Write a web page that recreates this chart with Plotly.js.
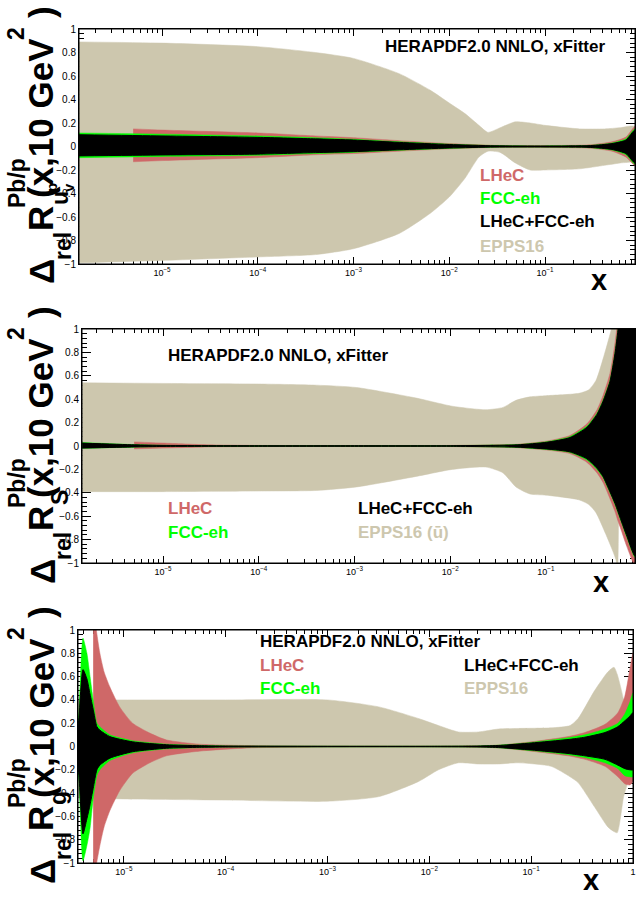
<!DOCTYPE html>
<html>
<head>
<meta charset="utf-8">
<script src="https://cdn.plot.ly/plotly-3.0.1.min.js"></script>
<style>html,body{margin:0;padding:0;background:#fff;}#chart{width:636px;height:899px;}</style>
</head>
<body>
<div id="chart"></div>
<script>
// ---------------- DATA ----------------
// Panel 1: u_v valence
const xU_epps = [1.36e-6, 1e-5, 1e-4, 4e-4, 1e-3, 3e-3, 6.3e-3, 1e-2, 1.46e-2, 2.04e-2, 2.54e-2, 3.4e-2, 4.9e-2, 7e-2, 0.1, 0.23, 0.42, 0.61, 0.87];
const uU_epps = [0.89, 0.88, 0.85, 0.80, 0.75, 0.62, 0.48, 0.37, 0.28, 0.18, 0.12, 0.16, 0.21, 0.20, 0.18, 0.15, 0.15, 0.16, 0.17];
const lU_epps = [-0.99, -0.97, -0.94, -0.92, -0.87, -0.74, -0.57, -0.43, -0.27, -0.09, -0.04, -0.05, -0.14, -0.20, -0.20, -0.19, -0.16, -0.14, -0.12];
const xU_lhec = [5e-6, 1e-5, 1e-4, 4e-4, 1e-3, 3e-3, 1e-2, 3e-2, 0.1, 0.3, 0.5, 0.7, 0.87];
const uU_lhec = [0.15, 0.14, 0.115, 0.09, 0.075, 0.05, 0.025, 0.01, 0.008, 0.015, 0.04, 0.08, 0.17];
const lU_lhec = [-0.13, -0.12, -0.095, -0.07, -0.06, -0.04, -0.02, -0.008, -0.008, -0.015, -0.04, -0.09, -0.16];
const xU_fcc  = [1.36e-6, 1e-5, 1e-4, 4e-4, 1e-3, 3e-3, 1e-2, 3e-2, 0.1, 0.3, 0.5, 0.7, 0.87];
const uU_fcc  = [0.115, 0.105, 0.09, 0.075, 0.062, 0.04, 0.02, 0.008, 0.005, 0.01, 0.03, 0.065, 0.15];
const lU_fcc  = [-0.095, -0.085, -0.075, -0.06, -0.05, -0.032, -0.016, -0.006, -0.005, -0.01, -0.03, -0.07, -0.15];
const uU_comb = [0.10, 0.09, 0.078, 0.065, 0.055, 0.035, 0.017, 0.006, 0.004, 0.008, 0.025, 0.055, 0.14];
const lU_comb = [-0.08, -0.072, -0.065, -0.052, -0.044, -0.028, -0.013, -0.005, -0.004, -0.008, -0.025, -0.06, -0.14];

// Panel 2: strange
const xS_epps = [1.43e-6, 1e-5, 1e-4, 4e-4, 1.05e-3, 4.4e-3, 1.05e-2, 2.36e-2, 3.56e-2, 4.86e-2, 6.8e-2, 0.1, 0.221, 0.28, 0.333, 0.42, 0.5, 0.537, 0.56];
const uS_epps = [0.54, 0.535, 0.53, 0.52, 0.50, 0.41, 0.34, 0.31, 0.33, 0.39, 0.42, 0.43, 0.45, 0.48, 0.56, 0.82, 1.05, 1.2, 1.3];
const lS_epps = [-0.39, -0.39, -0.385, -0.38, -0.35, -0.26, -0.20, -0.18, -0.23, -0.35, -0.41, -0.42, -0.46, -0.50, -0.57, -0.75, -0.90, -0.97, -1.05];
const xS_lhec = [5e-6, 1e-5, 3e-5, 1e-4, 1e-3, 1e-2, 5e-2, 0.102, 0.178, 0.268, 0.341, 0.394, 0.466, 0.526, 0.565, 0.6, 0.7, 0.85];
const uS_lhec = [0.035, 0.025, 0.01, 0.005, 0.004, 0.005, 0.015, 0.042, 0.09, 0.19, 0.31, 0.43, 0.62, 0.88, 1.1, 1.3, 1.6, 2.0];
const lS_lhec = [-0.025, -0.018, -0.008, -0.005, -0.004, -0.005, -0.015, -0.035, -0.065, -0.14, -0.23, -0.31, -0.45, -0.56, -0.64, -0.70, -0.86, -1.02];
const xS_fcc  = [1.43e-6, 5e-6, 1e-5, 1e-4, 1e-3, 1e-2, 5e-2, 0.102, 0.178, 0.268, 0.341, 0.394, 0.466, 0.526, 0.565, 0.6, 0.7, 0.85];
const uS_fcc  = [0.03, 0.012, 0.006, 0.004, 0.003, 0.004, 0.012, 0.037, 0.08, 0.17, 0.28, 0.39, 0.56, 0.8, 1.0, 1.2, 1.5, 2.0];
const lS_fcc  = [-0.02, -0.01, -0.005, -0.004, -0.003, -0.004, -0.012, -0.03, -0.055, -0.12, -0.20, -0.27, -0.40, -0.50, -0.57, -0.63, -0.78, -0.95];
const uS_comb = [0.025, 0.01, 0.005, 0.003, 0.003, 0.003, 0.01, 0.032, 0.072, 0.16, 0.27, 0.38, 0.55, 0.79, 0.99, 1.2, 1.5, 2.0];
const lS_comb = [-0.018, -0.008, -0.004, -0.003, -0.003, -0.003, -0.01, -0.026, -0.05, -0.11, -0.19, -0.26, -0.39, -0.49, -0.56, -0.62, -0.77, -0.94];

// Panel 3: gluon
const xG_epps = [3.55e-6, 1e-5, 1e-4, 1e-3, 3.2e-3, 7.85e-3, 1.23e-2, 1.93e-2, 3.03e-2, 4.76e-2, 7.46e-2, 0.157, 0.241, 0.289, 0.42, 0.566, 0.65, 0.7, 0.81, 0.89, 0.98];
const uG_epps = [0.4, 0.4, 0.4, 0.4, 0.34, 0.24, 0.18, 0.125, 0.125, 0.15, 0.155, 0.16, 0.18, 0.24, 0.48, 0.64, 0.68, 0.62, 0.4, 0.2, 0.1];
const lG_epps = [-0.44, -0.45, -0.46, -0.47, -0.43, -0.30, -0.20, -0.14, -0.15, -0.15, -0.14, -0.17, -0.26, -0.31, -0.52, -0.69, -0.73, -0.74, -0.43, -0.31, -0.2];
const xG_lhec = [5.0e-6, 5.2e-6, 5.82e-6, 6.4e-6, 7.3e-6, 9.1e-6, 1.22e-5, 1.8e-5, 2.63e-5, 5.5e-5, 1.7e-4, 1e-3, 1e-2, 3e-2, 5e-2, 0.1, 0.23, 0.337, 0.53, 0.71, 0.83, 0.93, 1.0];
const uG_lhec = [1.5, 1.1, 0.8, 0.64, 0.51, 0.34, 0.2, 0.115, 0.056, 0.02, 0.008, 0.004, 0.004, 0.006, 0.013, 0.04, 0.085, 0.12, 0.19, 0.29, 0.43, 0.66, 0.8];
const lG_lhec = [-1.5, -1.1, -0.85, -0.69, -0.55, -0.38, -0.23, -0.14, -0.08, -0.04, -0.012, -0.004, -0.004, -0.006, -0.013, -0.04, -0.08, -0.11, -0.17, -0.26, -0.32, -0.33, -0.3];
const xG_fcc  = [3.55e-6, 3.63e-6, 3.97e-6, 4.34e-6, 4.66e-6, 5.0e-6, 5.44e-6, 5.82e-6, 7.3e-6, 1.22e-5, 2.63e-5, 5.5e-5, 1e-4, 1e-3, 1e-2, 3e-2, 5e-2, 0.1, 0.23, 0.337, 0.53, 0.71, 0.83, 0.93, 1.0];
const uG_fcc  = [0.22, 0.3, 0.93, 0.8, 0.6, 0.4, 0.2, 0.17, 0.1, 0.05, 0.02, 0.01, 0.005, 0.003, 0.003, 0.005, 0.012, 0.035, 0.075, 0.1, 0.15, 0.2, 0.28, 0.38, 0.46];
const lG_fcc  = [-0.22, -0.3, -0.98, -0.85, -0.7, -0.45, -0.25, -0.2, -0.12, -0.055, -0.02, -0.01, -0.005, -0.003, -0.003, -0.005, -0.012, -0.035, -0.07, -0.095, -0.14, -0.19, -0.25, -0.26, -0.26];
const uG_comb = [0.18, 0.25, 0.66, 0.58, 0.45, 0.32, 0.17, 0.14, 0.085, 0.04, 0.015, 0.007, 0.004, 0.002, 0.002, 0.004, 0.01, 0.03, 0.06, 0.08, 0.12, 0.17, 0.22, 0.26, 0.29];
const lG_comb = [-0.18, -0.25, -0.75, -0.62, -0.5, -0.36, -0.2, -0.16, -0.1, -0.045, -0.015, -0.007, -0.004, -0.002, -0.002, -0.004, -0.01, -0.03, -0.06, -0.08, -0.11, -0.16, -0.19, -0.2, -0.2];

const seriesNames = ['LHeC', 'FCC-eh', 'LHeC+FCC-eh', 'EPPS16'];
const headerText = 'HERAPDF2.0 NNLO, xFitter';
const xTickVals = [1e-5, 1e-4, 1e-3, 1e-2, 1e-1, 1];
const xTickText = ['10<sup>−5</sup>', '10<sup>−4</sup>', '10<sup>−3</sup>', '10<sup>−2</sup>', '10<sup>−1</sup>', '1'];

// ---------------- STYLE ----------------
const FONT = 'Liberation Sans, Arial, Helvetica, sans-serif';
const C_EPPS = '#CDC7AE', C_LHEC = '#CF6868', C_FCC = '#00FF00', C_COMB = '#000000';
const W = 636, H = 899;
const px = v => v / W, py = v => 1 - v / H;

function band(xs, up, lo, color, xa, ya, lw) {
  return {
    type: 'scatter', mode: 'lines', xaxis: xa, yaxis: ya,
    x: xs.concat(xs.slice().reverse()),
    y: up.concat(lo.slice().reverse()),
    fill: 'toself', fillcolor: color,
    line: {color: color, width: lw, shape: 'spline', smoothing: 0.6},
    hoverinfo: 'skip', showlegend: false
  };
}

const traces = [
  band(xU_epps, uU_epps, lU_epps, C_EPPS, 'x', 'y', 0.5),
  band(xU_lhec, uU_lhec, lU_lhec, C_LHEC, 'x', 'y', 0.5),
  band(xU_fcc, uU_fcc, lU_fcc, C_FCC, 'x', 'y', 0.5),
  band(xU_fcc, uU_comb, lU_comb, C_COMB, 'x', 'y', 1),
  band(xS_epps, uS_epps, lS_epps, C_EPPS, 'x2', 'y2', 0.5),
  band(xS_lhec, uS_lhec, lS_lhec, C_LHEC, 'x2', 'y2', 0.5),
  band(xS_fcc, uS_fcc, lS_fcc, C_FCC, 'x2', 'y2', 0.5),
  band(xS_fcc, uS_comb, lS_comb, C_COMB, 'x2', 'y2', 1),
  band(xG_epps, uG_epps, lG_epps, C_EPPS, 'x3', 'y3', 0.5),
  band(xG_lhec, uG_lhec, lG_lhec, C_LHEC, 'x3', 'y3', 0.5),
  band(xG_fcc, uG_fcc, lG_fcc, C_FCC, 'x3', 'y3', 0.5),
  band(xG_fcc, uG_comb, lG_comb, C_COMB, 'x3', 'y3', 1)
];

// minor tick positions (2..9 x decade)
const minorX = [];
for (let e = -7; e <= 0; e++) for (let k = 2; k <= 9; k++) minorX.push(k * Math.pow(10, e));

// panel geometry in pixels: [left, right, top, bottom], x range (log10)
const panels = [
  {l: 79, r: 635, t: 29, b: 264, xr: [-5.867, -0.06]},
  {l: 82, r: 635, t: 329, b: 563, xr: [-5.846, -0.07]},
  {l: 78, r: 633, t: 630, b: 863, xr: [-5.45, 0.0]}
];

const layout = {
  width: W, height: H, margin: {l: 0, r: 0, t: 0, b: 0},
  paper_bgcolor: '#fff', plot_bgcolor: 'rgba(0,0,0,0)',
  showlegend: false, font: {family: FONT, color: '#000'},
  annotations: [], shapes: []
};

panels.forEach((p, i) => {
  const sfx = i === 0 ? '' : String(i + 1);
  const xa = 'x' + sfx, ya = 'y' + sfx;
  layout['xaxis' + sfx] = {
    type: 'log', range: p.xr, domain: [px(p.l), px(p.r)], anchor: ya,
    showgrid: false, zeroline: false, showline: true, linecolor: '#000', linewidth: 1,
    mirror: 'ticks', ticks: 'inside', ticklen: 7, tickwidth: 1, tickcolor: '#000',
    tickmode: 'array', tickvals: xTickVals, ticktext: xTickText,
    tickfont: {family: FONT, size: 9, color: '#000'},
    minor: {tickmode: 'array', tickvals: minorX, ticks: 'inside', ticklen: 4, tickcolor: '#000', showgrid: false},
    layer: 'below traces', fixedrange: true
  };
  layout['yaxis' + sfx] = {
    range: [-1, 1], domain: [py(p.b), py(p.t)], anchor: xa,
    showgrid: false, zeroline: false, showline: true, linecolor: '#000', linewidth: 1,
    mirror: 'ticks', ticks: 'inside', ticklen: 9, tickwidth: 1, tickcolor: '#000',
    tickmode: 'linear', tick0: -1, dtick: 0.2,
    tickfont: {family: FONT, size: 10, color: '#000'},
    minor: {dtick: 0.04, tick0: -1, ticks: 'inside', ticklen: 5, tickcolor: '#000', showgrid: false},
    layer: 'below traces', fixedrange: true
  };
  // frame on top
  layout.shapes.push({type: 'rect', xref: 'paper', yref: 'paper', x0: px(p.l), x1: px(p.r), y0: py(p.b), y1: py(p.t),
    line: {color: '#000', width: 1}, layer: 'above'});
});

function txt(t, x, y, size, color, xanchor, extra) {
  layout.annotations.push(Object.assign({
    text: t, xref: 'paper', yref: 'paper', x: px(x), y: py(y),
    xanchor: xanchor || 'left', yanchor: 'middle', showarrow: false,
    font: {family: FONT, size: size, color: color, weight: 'bold'}
  }, extra || {}));
}

// header texts
txt(headerText, 383, 46, 17, '#000');
txt(headerText, 166, 355, 17, '#000');
txt(headerText, 258, 641, 17, '#000');

// legends panel 1
txt(seriesNames[0], 478, 175, 17, C_LHEC);
txt(seriesNames[1], 478, 198, 17, C_FCC);
txt(seriesNames[2], 478, 222, 17, C_COMB);
txt(seriesNames[3], 478, 246, 17, C_EPPS);
// legends panel 2
txt(seriesNames[0], 166, 509, 17, C_LHEC);
txt(seriesNames[1], 166, 532, 17, C_FCC);
txt(seriesNames[2], 356, 509, 17, C_COMB);
txt(seriesNames[3] + ' (ū)', 356, 532, 17, C_EPPS);
// legends panel 3
txt(seriesNames[0], 258, 665, 17, C_LHEC);
txt(seriesNames[1], 258, 688, 17, C_FCC);
txt(seriesNames[2], 462, 665, 17, C_COMB);
txt(seriesNames[3], 462, 688, 17, C_EPPS);

// x axis titles
txt('x', 599, 280, 29, '#000', 'center');
txt('x', 601, 582, 29, '#000', 'center');
txt('x', 591, 880, 29, '#000', 'center');

// y axis titles built piecewise (ROOT-like stacked super/subscripts)
function ylab(oy, subParts) {
  const rot = {textangle: -90};
  txt('Δ', 42, oy + 272, 35, '#000', 'center', rot);
  txt('rel', 63, oy + 246, 23, '#000', 'center', rot);
  txt('R', 40, oy + 219, 35, '#000', 'center', rot);
  txt('Pb/p', 17, oy + 183, 23, '#000', 'center', rot);
  subParts.forEach(s => txt(s.t, s.x, oy + s.y, s.size, '#000', 'center', rot));
  txt('(x,10 GeV', 41, oy + 118, 35, '#000', 'center', rot);
  txt('2', 16, oy + 34, 23, '#000', 'center', rot);
  txt(')', 41, oy + 12, 35, '#000', 'center', rot);
}
ylab(0, [{t: 'u', x: 60, y: 198, size: 23}, {t: 'v', x: 68, y: 188, size: 15}, {t: 'p', x: 51, y: 188, size: 15}]);
ylab(300, [{t: 'S', x: 60, y: 198, size: 23}]);
ylab(600, [{t: 'g', x: 58, y: 198, size: 23}]);

Plotly.newPlot('chart', traces, layout, {staticPlot: true, displayModeBar: false});
</script>
</body>
</html>
